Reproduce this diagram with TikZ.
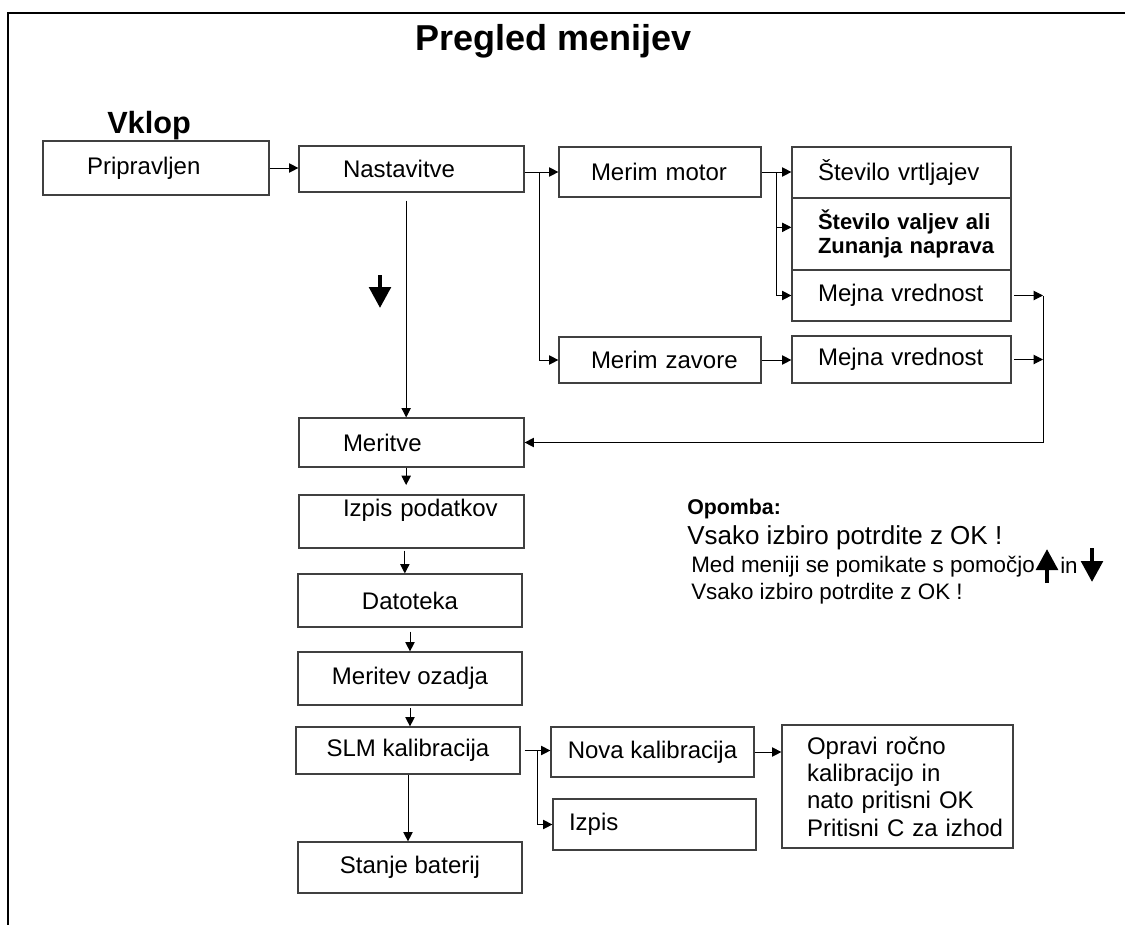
\documentclass[tikz,border=0pt]{standalone}
\usepackage{fontspec}
\setmainfont{Liberation Sans}
\usetikzlibrary{arrows.meta}
\hyphenpenalty=10000
\exhyphenpenalty=10000

\tikzset{
  box/.style={draw=black!75, line width=0.9pt, align=left, inner ysep=0pt,
              font=\fontsize{18pt}{20.5pt}\selectfont},
  arr/.style={-{Triangle[length=7pt,width=7pt]}, line width=0.75pt},
  bigarrow/.style={-{Triangle[length=15.75pt,width=16pt]}, line width=3.4pt},
  txt/.style={inner sep=0pt, anchor=base west},
  okvir/.style={line width=1.4pt},
}

\begin{document}
\begin{tikzpicture}[x=0.75pt,y=-0.75pt]
            \useasboundingbox (0,0) rectangle (1125,925);
            \draw[okvir] (8,925) -- (8,12.7) -- (1125,12.7);

            \node[txt, font=\bfseries\fontsize{27pt}{30pt}\selectfont] (naslov) at (415,50) {Pregled menijev};
            \node[txt, font=\bfseries\fontsize{23pt}{26pt}\selectfont] (vklop) at (107,133) {Vklop};

            \node[box, text width=103.5pt, inner xsep=33pt, minimum height=40.5pt] (prip) at (156,168) {Pripravljen};
            \node[box, text width=102.75pt, inner xsep=33pt, minimum height=34.5pt] (nast) at (411.5,169) {Nastavitve};
            \node[box, text width=103.5pt, inner xsep=24pt, minimum height=37.5pt] (motor) at (660,172) {Merim~motor};
            \node[box, text width=103.5pt, inner xsep=24pt, minimum height=34.5pt] (zavore) at (660,360) {Merim~zavore};

            \node[box, text width=125.25pt, inner xsep=19.5pt, minimum height=38.25pt] (vrtljaji) at (901.5,172.5) {Število~vrtljajev};
            \node[box, text width=125.25pt, inner xsep=19.5pt, minimum height=54pt,
                  font=\bfseries\fontsize{16.5pt}{18pt}\selectfont] (valji) at (901.5,234) {Število~valjev~ali\\Zunanja~naprava};
            \node[box, text width=125.25pt, inner xsep=19.5pt, minimum height=38.25pt] (mejna) at (901.5,295.5) {Mejna~vrednost};
            \node[box, text width=125.25pt, inner xsep=19.5pt, minimum height=35.25pt] (mejnab) at (901.5,359.5) {Mejna~vrednost};

            \node[box, text width=102.75pt, inner xsep=33pt, minimum height=36.75pt] (meritve) at (411.5,442.5) {Meritve};
            \node[box, text width=102.75pt, inner xsep=33pt, minimum height=39.75pt] (izpispod) at (411.5,521.5) {Izpis~podatkov\\\mbox{}};
            \node[box, minimum width=168pt, minimum height=39.75pt] (datoteka) at (410,600.5) {Datoteka};
            \node[box, minimum width=168pt, minimum height=39.75pt] (ozadje) at (410,678.5) {Meritev ozadja};
            \node[box, minimum width=168pt, minimum height=35.25pt] (slm) at (408,750.5) {SLM kalibracija};
            \node[box, minimum width=168pt, minimum height=38.25pt] (stanje) at (410,867.5) {Stanje baterij};

            \node[box, minimum width=152.25pt, minimum height=37.5pt] (nova) at (652.5,752) {Nova kalibracija};
            \node[box, text width=128.25pt, inner xsep=12pt, minimum height=38.25pt] (izpis) at (654.5,824.5) {Izpis};
            \node[box, text width=135.75pt, inner xsep=18.75pt, minimum height=92.25pt] (opravi) at (897.5,786.5)
                 {Opravi~ročno\\kalibracijo~in\\nato~pritisni~OK\\Pritisni~C~za~izhod};

            \node[txt, font=\bfseries\fontsize{16pt}{19pt}\selectfont] (opomba) at (687,514) {Opomba:};
            \node[txt, font=\fontsize{19.5pt}{22pt}\selectfont] (ok_a) at (687,544) {Vsako izbiro potrdite z OK !};
            \node[txt, font=\fontsize{16.8pt}{20pt}\selectfont] (med) at (691,572) {Med meniji se pomikate s pomočjo};
            \node[txt, font=\fontsize{16.8pt}{20pt}\selectfont] (in_txt) at (1060,573) {in};
            \node[txt, font=\fontsize{16.8pt}{20pt}\selectfont] (ok_b) at (691,599) {Vsako izbiro potrdite z OK !};

            \draw[bigarrow] (380,275) -- (380,308);
            \draw[bigarrow] (1047,583) -- (1047,549);
            \draw[bigarrow] (1092,548) -- (1092,582);

            \coordinate (nsplit) at (539,172);
            \coordinate (msplit) at (776,172);
            \coordinate (rjoin) at (1043,296);
            \coordinate (ssplit) at (537,750.5);

            \draw[arr] (prip.east) -- (prip.east -| nast.west);
            \draw[arr] (nast.east |- motor.west) -- (motor.west);
            \draw[arr] (nsplit) |- (zavore.west);
            \draw[arr] (motor.east) -- (motor.east -| vrtljaji.west);
            \draw[arr] (msplit) |- ([yshift=5pt]valji.west);
            \draw[arr] (msplit) |- (mejna.west);
            \draw[arr] (zavore.east) -- (zavore.east -| mejnab.west);
            \draw[arr] ([xshift=2pt]mejna.east) -- (mejna.east -| rjoin);
            \draw[arr] ([xshift=2pt]mejnab.east) -- (mejnab.east -| rjoin);
            \draw[arr] (rjoin) |- (meritve.east);

            \draw[arr] ([xshift=-4pt,yshift=-6pt]nast.south) -- ([xshift=-4pt]meritve.north);
            \draw[arr] ([xshift=-4pt]meritve.south) -- ([xshift=-4pt,yshift=7pt]izpispod.north);
            \draw[arr] ([xshift=-5pt,yshift=-1.5pt]izpispod.south) -- ([xshift=-5pt]izpispod.south |- datoteka.north);
            \draw[arr] ([yshift=-3pt]datoteka.south) -- (ozadje.north);
            \draw[arr] ([yshift=-2pt]ozadje.south) -- (ozadje.south |- slm.north);
            \draw[arr] (slm.south) -- (slm.south |- stanje.north);

            \draw[arr] ([xshift=3pt]slm.east) -- (slm.east -| nova.west);
            \draw[arr] (ssplit) |- (izpis.west);
            \draw[arr] (nova.east) -- (nova.east -| opravi.west);
\end{tikzpicture}
\end{document}
